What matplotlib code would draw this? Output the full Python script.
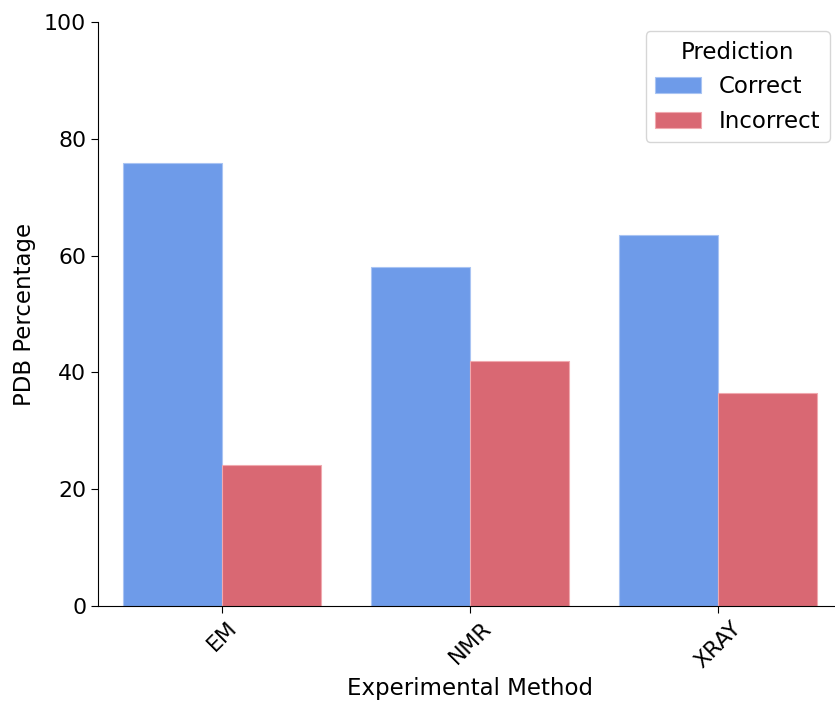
import matplotlib
matplotlib.use("Agg")
import matplotlib.pyplot as plt
import numpy as np

methods = ["EM", "NMR", "XRAY"]
correct = [75.8, 58.0, 63.5]
incorrect = [24.2, 42.0, 36.5]
series_names = ["Correct", "Incorrect"]
colors = ["#6e9be9", "#d96873"]

plt.rcParams["font.family"] = ["DejaVu Sans"]

fig = plt.figure(figsize=(8.35, 7.04), dpi=100)
ax = fig.add_axes([98 / 835, 1 - 606 / 704, 744 / 835, (606 - 22) / 704])

x = np.arange(len(methods))
w = 0.4
ax.bar(x - w / 2, correct, width=w, color=colors[0], label=series_names[0],
       edgecolor="#a9c4f3", linewidth=0.8)
ax.bar(x + w / 2, incorrect, width=w, color=colors[1], label=series_names[1],
       edgecolor="#f0a9af", linewidth=0.8)

ax.set_xlim(-0.5, len(methods) - 0.5)
ax.set_ylim(0, 100)
ax.set_xticks(x)
ax.set_xticklabels(methods, rotation=45, ha="center")
ax.set_yticks([0, 20, 40, 60, 80, 100])
ax.tick_params(axis="both", labelsize=15.8, length=5)
ax.set_xlabel("Experimental Method", fontsize=16.5)
ax.set_ylabel("PDB Percentage", fontsize=16.5, labelpad=6)
ax.spines["top"].set_visible(False)
ax.spines["right"].set_visible(False)

leg = ax.legend(title="Prediction", fontsize=16.5, title_fontsize=16.5,
                loc="upper right", bbox_to_anchor=(841 / 835, 1 - 20 / 704),
                bbox_transform=fig.transFigure, handlelength=2.0)

fig.savefig("out.png", dpi=100)
